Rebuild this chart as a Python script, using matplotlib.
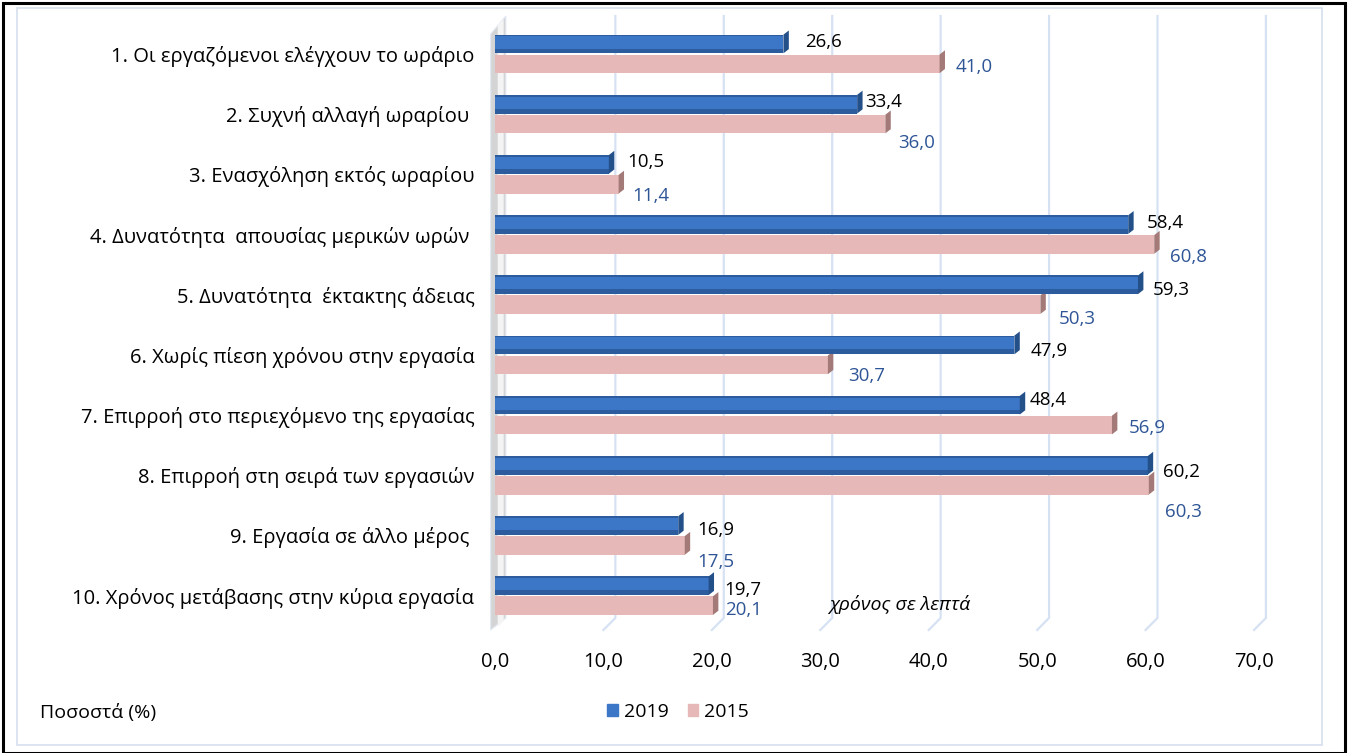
import matplotlib
matplotlib.use("Agg")
import matplotlib.pyplot as plt
from matplotlib.patches import Polygon, Rectangle, Patch

plt.rcParams["font.family"] = ["Open Sans", "DejaVu Sans"]

CATEGORIES = [
    "1. Οι εργαζόμενοι ελέγχουν το ωράριο ",
    "2. Συχνή αλλαγή ωραρίου  ",
    "3. Ενασχόληση εκτός ωραρίου ",
    "4. Δυνατότητα  απουσίας μερικών ωρών  ",
    "5. Δυνατότητα  έκτακτης άδειας ",
    "6. Χωρίς πίεση χρόνου στην εργασία ",
    "7. Επιρροή στο περιεχόμενο της εργασίας ",
    "8. Επιρροή στη σειρά των εργασιών ",
    "9. Εργασία σε άλλο μέρος  ",
    "10. Χρόνος μετάβασης στην κύρια εργασία ",
]
VALUES_2019 = [26.6, 33.4, 10.5, 58.4, 59.3, 47.9, 48.4, 60.2, 16.9, 19.7]
VALUES_2015 = [41.0, 36.0, 11.4, 60.8, 50.3, 30.7, 56.9, 60.3, 17.5, 20.1]
X_TICKS = [0, 10, 20, 30, 40, 50, 60, 70]

# label nudges in pixels (Excel placed them by hand)
DX_2019 = [22, 8, 18, 19, 15, 16, 10, 15, 19, 16]
DY_2019 = [-12, -12, -12, -12, -5, -4, -15, -3, -5, -6]
DX_2015 = [16, 13, 14, 16, 18, 20, 17, 16, 13, 12]
DY_2015 = [13, 29, 22, 22, 24, 21, 13, 37, 27, 14]

BLUE, BLUE_DARK, BLUE_CAP = "#3B77C6", "#2C5C9E", "#24508A"
PINK, PINK_CAP = "#E6B9B8", "#A47A78"
LABEL_BLUE = "#2E5596"
GRID = "#D6E2F3"

W, H = 1349, 753
fig = plt.figure(figsize=(W / 100, H / 100), dpi=100)
ax = fig.add_axes([495 / W, 1 - 630 / H, (1254 - 495) / W, (630 - 16) / H])
ax.set_xlim(0, 70)
ytop, ybot = -0.63, 9.57
ax.set_ylim(ybot, ytop)
for s in ax.spines.values():
    s.set_visible(False)

ypos = list(range(len(CATEGORIES)))
bh = 0.31
off = 0.165

# back-wall gridlines with slanted foot
for v in X_TICKS[1:]:
    ax.plot([v + 1.1, v + 1.1, v], [ytop, ybot - 0.2, ybot], color=GRID, lw=1.6,
            clip_on=False, zorder=0)

# left wall
ax.add_patch(Polygon([(-0.4, ybot), (-0.4, ytop + 0.3), (1.0, ytop), (1.0, ybot - 0.2)],
                     closed=True, facecolor="#D4D4D4", edgecolor="#E2E9F4", lw=0.8,
                     clip_on=False, zorder=1))
ax.add_patch(Polygon([(0.25, ybot - 0.05), (0.25, ytop + 0.15), (0.8, ytop + 0.05), (0.8, ybot - 0.15)],
                     closed=True, facecolor="#F4F4F4", edgecolor="none",
                     clip_on=False, zorder=1))

# 2015 bars (pink)
y15 = [y + off for y in ypos]
ax.barh(y15, VALUES_2015, height=bh, color=PINK, zorder=2)
for y, v in zip(y15, VALUES_2015):
    t, b = y - bh / 2, y + bh / 2
    ax.add_patch(Polygon([(v, t), (v + 0.5, t - 0.07), (v + 0.5, b - 0.07), (v, b)],
                         closed=True, facecolor=PINK_CAP, edgecolor="none", zorder=3))

# 2019 bars (blue) with darker edges
y19 = [y - off for y in ypos]
ax.barh(y19, VALUES_2019, height=bh, color=BLUE, zorder=4)
ax.barh([y + bh / 2 - 0.04 for y in y19], VALUES_2019, height=0.08, color=BLUE_DARK, zorder=4)
ax.barh([y - bh / 2 + 0.015 for y in y19], VALUES_2019, height=0.03, color=BLUE_DARK, zorder=4)
for y, v in zip(y19, VALUES_2019):
    t, b = y - bh / 2, y + bh / 2
    ax.add_patch(Polygon([(v, t), (v + 0.5, t - 0.07), (v + 0.5, b - 0.07), (v, b)],
                         closed=True, facecolor=BLUE_CAP, edgecolor="none", zorder=5))

# value labels
for i in ypos:
    ax.annotate(f"{VALUES_2019[i]:.1f}".replace(".", ","), (VALUES_2019[i], i),
                xytext=(DX_2019[i] * 0.72, -DY_2019[i] * 0.72), textcoords="offset points",
                ha="left", va="center", fontsize=13.5, color="black", zorder=6)
    ax.annotate(f"{VALUES_2015[i]:.1f}".replace(".", ","), (VALUES_2015[i], i),
                xytext=(DX_2015[i] * 0.72, -DY_2015[i] * 0.72), textcoords="offset points",
                ha="left", va="center", fontsize=13.5, color=LABEL_BLUE, zorder=6)

ax.set_yticks(ypos)
ax.set_yticklabels(CATEGORIES, fontsize=14.5)
ax.tick_params(axis="y", length=0, pad=11)
ax.set_xticks(X_TICKS)
ax.set_xticklabels([f"{v:.1f}".replace(".", ",") for v in X_TICKS], fontsize=14.5)
ax.tick_params(axis="x", length=0, pad=16)

ax.text(37.3, 9.15, "χρόνος σε λεπτά", style="italic", fontsize=14,
        ha="center", va="center", zorder=6)

fig.text(40 / W, 1 - 713 / H, "Ποσοστά (%)", fontsize=14, ha="left", va="center")
fig.legend(handles=[Patch(color=BLUE, label="2019"), Patch(color=PINK, label="2015")],
           loc="center", bbox_to_anchor=(678 / W, 1 - 712 / H), ncol=2, frameon=False,
           fontsize=14, handlelength=0.55, handleheight=0.55, handletextpad=0.3,
           columnspacing=1.0)

# frames
fig.add_artist(Rectangle((17 / W, 1 - 745 / H), (1322 - 17) / W, (745 - 8) / H,
                         transform=fig.transFigure, fill=False, edgecolor="#D5DFEE", lw=1.2))
fig.add_artist(Rectangle((3 / W, 0), (1345 - 3) / W, 1 - 3 / H,
                         transform=fig.transFigure, fill=False, edgecolor="black", lw=2.2))

fig.savefig("out.png", dpi=100, facecolor="white")
